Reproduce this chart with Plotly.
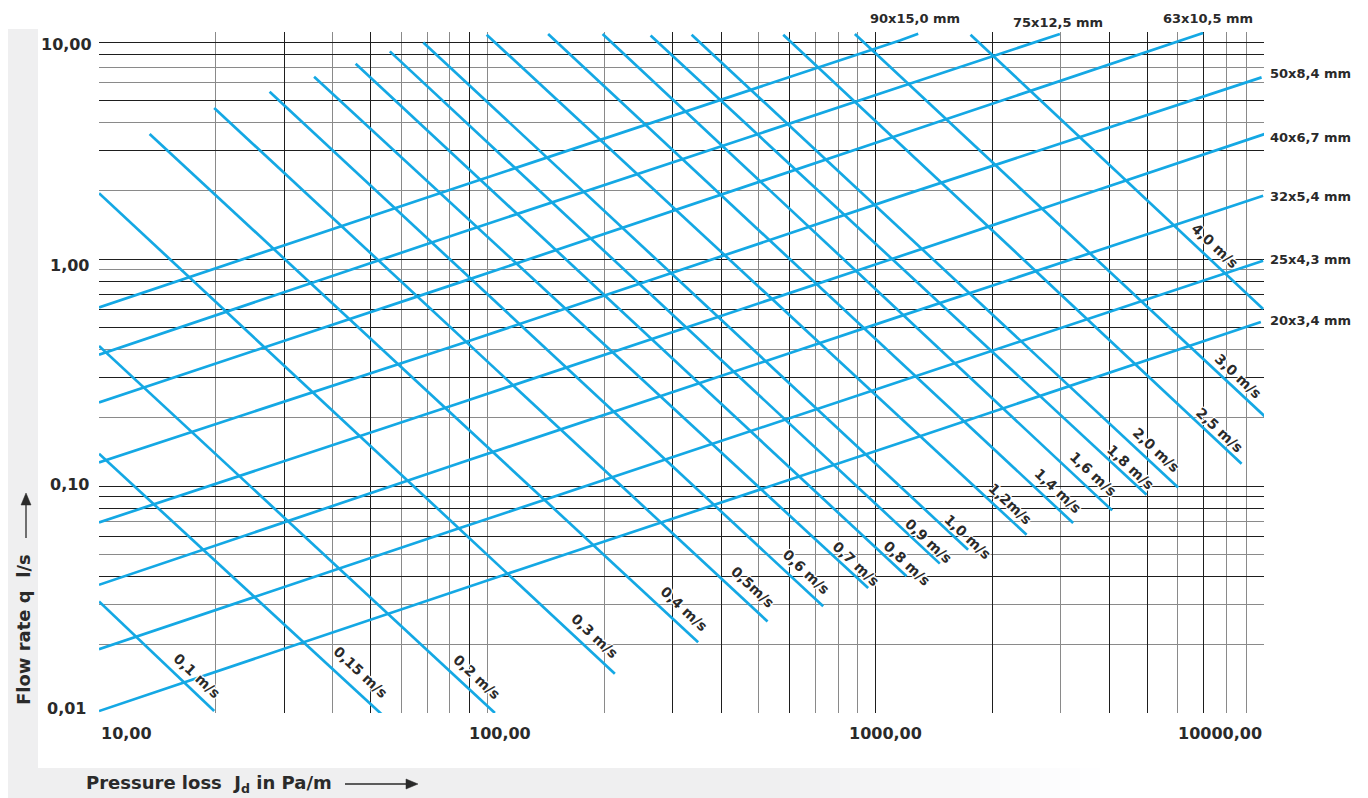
import numpy as np
import plotly.graph_objects as go

# ---------------- data ----------------
# pipe characteristic lines (pressure loss J in Pa/m, flow rate q in l/s)
pipe_labels = ["20x3,4 mm", "25x4,3 mm", "32x5,4 mm", "40x6,7 mm",
               "50x8,4 mm", "63x10,5 mm", "75x12,5 mm", "90x15,0 mm"]
pipe_J = [[10, 121, 1154, 9815],
          [10, 85, 1154, 9949],
          [10, 85, 1154, 9949],
          [10, 85, 1025, 10050],
          [10, 85, 1154, 9857],
          [10, 85, 1154, 6970],
          [10, 85, 1154, 2981],
          [10, 85, 1154, 1287]]
pipe_q = [[0.0102, 0.0428, 0.1547, 0.528],
          [0.0191, 0.0653, 0.2889, 0.983],
          [0.0367, 0.1263, 0.5587, 1.901],
          [0.0691, 0.2321, 0.960, 3.553],
          [0.1271, 0.4222, 1.887, 6.31],
          [0.2335, 0.789, 3.528, 9.90],
          [0.379, 1.302, 5.725, 9.80],
          [0.612, 2.088, 9.18, 9.83]]

# constant velocity lines
vel_labels = ["0,1 m/s", "0,15 m/s", "0,2 m/s", "0,3 m/s", "0,4 m/s", "0,5m/s",
              "0,6 m/s", "0,7 m/s", "0,8 m/s", "0,9 m/s", "1,0 m/s", "1,2m/s",
              "1,4 m/s", "1,6 m/s", "1,8 m/s", "2,0 m/s", "2,5 m/s", "3,0 m/s", "4,0 m/s"]
vel_J_start = [10, 10, 10, 10, 13.5, 19.8, 27.5, 35.8, 45.8, 56.1, 68.4, 99.6,
               143.4, 198.1, 263.3, 335.8, 578, 884, 1755]
vel_q_start = [0.031, 0.1388, 0.414, 1.95, 3.554, 4.626, 5.458, 6.356, 7.252, 8.215,
               9.0, 9.73, 9.80, 9.80, 9.66, 9.73, 9.73, 9.80, 9.73]
vel_J_end = [19.8, 53.7, 104.6, 213, 349, 526.7, 732.5, 956.6, 1201, 1463, 1730,
             2447, 3225, 4064, 4984, 6010, 8755, 10050, 9949]
vel_q_end = [0.0102, 0.0098, 0.0100, 0.0149, 0.0205, 0.0253, 0.0295, 0.0355, 0.0400,
             0.0455, 0.0524, 0.0610, 0.0687, 0.0781, 0.0916, 0.0986, 0.1254, 0.2025, 0.602]

# grid lines (two tones) and tick labels
x_grid_dark = [30, 50, 90, 300, 400, 600, 1000, 2000, 4000, 5000, 7000]
x_grid_gray = [20, 40, 60, 70, 80, 100, 200, 500, 700, 800, 900, 3000, 6000, 8000, 9000]
y_grid_dark = [0.04, 0.06, 0.08, 0.09, 0.1, 0.3, 0.5, 0.6, 0.7, 0.8, 1, 3, 5, 8, 9]
y_grid_gray = [0.02, 0.03, 0.05, 0.07, 0.2, 0.4, 0.9, 2, 4, 6, 7]
x_tick_vals = [10, 100, 1000, 10000]
x_tick_text = ["10,00", "100,00", "1000,00", "10000,00"]
y_tick_vals = [10, 1, 0.1, 0.01]
y_tick_text = ["10,00", "1,00", "0,10", "0,01"]

# ---------------- layout geometry / styles ----------------
OFF = 8                      # page body margin of the html page
W, H = 1368 - OFF, 798 - OFF
ML, MR, MT, MB = 91, 104, 24, 85
PW = W - ML - MR
PH = H - MT - MB
XR = (1, 4)
YR = (-2, 1)


def pxp(px, py):
    """window pixel -> paper coordinates"""
    return (px - OFF - ML) / PW, (H - MB - (py - OFF)) / PH


def lx(v):
    return float(np.clip(np.log10(v), XR[0] + 1e-4, XR[1] - 1e-4))


def ly(v):
    return float(np.clip(np.log10(v), YR[0] + 1e-4, YR[1] - 1e-4))


BLUE = "#14A8E4"
TXT = "#2a2a2a"
FONT = "DejaVu Sans"
HALO = "1px 1px 0 #fff, -1px -1px 0 #fff, 1px -1px 0 #fff, -1px 1px 0 #fff, 0 0 3px #fff"

fig = go.Figure()

for name, J, q in zip(pipe_labels, pipe_J, pipe_q):
    fig.add_trace(go.Scatter(x=J, y=q, mode="lines", name=name, showlegend=False,
                             hoverinfo="skip", line=dict(color=BLUE, width=2.7)))

for lab, j0, q0, j1, q1 in zip(vel_labels, vel_J_start, vel_q_start, vel_J_end, vel_q_end):
    fig.add_trace(go.Scatter(x=[j0, j1], y=[q0, q1], mode="lines", name=lab, showlegend=False,
                             hoverinfo="skip", line=dict(color=BLUE, width=2.7)))

annotations = []

# velocity labels, placed beside the lower end of each line
vel_label_off = [(-17, -35), (-22, -41), (-18, -36), (-20, -38), (-14, -33), (-15, -34),
                 (-17, -34), (-12, -24), (0, -13), (-11, -23), (0, -13), (-16, -31),
                 (-15, -32), (-19, -36), (-16, -28), (-22, -37), (-22, -34), (-26, -40),
                 (-48, -63)]
for lab, j1, q1, (dx, dy) in zip(vel_labels, vel_J_end, vel_q_end, vel_label_off):
    annotations.append(dict(x=lx(j1), y=ly(q1), xref="x", yref="y",
                            text=lab, showarrow=False, textangle=43,
                            xanchor="center", yanchor="middle", xshift=dx, yshift=-dy,
                            font=dict(family=FONT, size=14, color=TXT, weight="bold",
                                      shadow=HALO)))

# pipe labels
pipe_label_pos = [(7, 1, "left"), (5, 1, "left"), (5, -1, "left"), (4, -3, "left"),
                  (6, 4, "left"), (5, 14, "center"), (-2, 11, "center"), (-3, 15, "center")]
for lab, J, q, (dx, dy, anc) in zip(pipe_labels, pipe_J, pipe_q, pipe_label_pos):
    annotations.append(dict(x=lx(J[-1]), y=ly(q[-1]), xref="x", yref="y",
                            text=lab, showarrow=False, xanchor=anc, yanchor="middle",
                            xshift=dx, yshift=dy,
                            font=dict(family=FONT, size=13, color=TXT, weight="bold")))

# x tick labels
x_tick_shift = [27, 13, 10, -44]
for v, t, s in zip(x_tick_vals, x_tick_text, x_tick_shift):
    annotations.append(dict(x=lx(v), y=pxp(0, 733)[1], xref="x", yref="paper",
                            text=t, showarrow=False, xanchor="center", yanchor="middle",
                            xshift=s, font=dict(family=FONT, size=16, color=TXT, weight="bold")))
# y tick labels
y_tick_shift = [-12, -6, 2, 4]
y_tick_right = [94, 91, 91, 88]
for v, t, s, r in zip(y_tick_vals, y_tick_text, y_tick_shift, y_tick_right):
    annotations.append(dict(x=pxp(r, 0)[0], y=ly(v), xref="paper", yref="y",
                            text=t, showarrow=False, xanchor="right", yanchor="middle",
                            yshift=s, font=dict(family=FONT, size=16, color=TXT, weight="bold")))

# axis titles
xt = pxp(84, 784)
annotations.append(dict(x=xt[0], y=xt[1], xref="paper", yref="paper",
                        text="Pressure loss  J<sub>d</sub> in Pa/m", showarrow=False,
                        xanchor="left", yanchor="middle",
                        font=dict(family=FONT, size=18, color=TXT, weight="bold")))
yt = pxp(23, 630)
annotations.append(dict(x=yt[0], y=yt[1], xref="paper", yref="paper",
                        text="Flow rate q  l/s", showarrow=False, textangle=-90,
                        xanchor="center", yanchor="middle",
                        font=dict(family=FONT, size=18, color=TXT, weight="bold")))

shapes = []
# light grey L-shaped frame
x0, y0 = pxp(6, 29)
x1, y1 = pxp(38, 798)
shapes.append(dict(type="rect", xref="paper", yref="paper", x0=x0, x1=x1, y0=y1, y1=y0,
                   fillcolor="#efeff0", line=dict(width=0), layer="below"))
bx0, by0 = pxp(38, 768)
bx1, by1 = pxp(760, 798)
shapes.append(dict(type="rect", xref="paper", yref="paper", x0=bx0, x1=bx1, y0=by1, y1=by0,
                   fillcolor="#efeff0", line=dict(width=0), layer="below"))
nfade = 17
for i in range(nfade):
    a = pxp(760 + i * 20, 768)
    b = pxp(760 + (i + 1) * 20, 798)
    g = int(239 + (255 - 239) * (i + 1) / (nfade + 1))
    shapes.append(dict(type="rect", xref="paper", yref="paper", x0=a[0], x1=b[0],
                       y0=b[1], y1=a[1], fillcolor=f"rgb({g},{g},{min(255, g + 1)})",
                       line=dict(width=0), layer="below"))


def arrow(tail, head, size=12, half=5):
    tx, ty = tail
    hx, hy = head
    d = np.hypot(hx - tx, hy - ty)
    ux, uy = (hx - tx) / d, (hy - ty) / d
    bx, by = hx - ux * size, hy - uy * size
    p_tail, p_base, p_head = pxp(tx, ty), pxp(bx, by), pxp(hx, hy)
    c1 = pxp(bx - uy * half, by + ux * half)
    c2 = pxp(bx + uy * half, by - ux * half)
    out = [dict(type="line", xref="paper", yref="paper", x0=p_tail[0], y0=p_tail[1],
                x1=p_base[0], y1=p_base[1], line=dict(color=TXT, width=1.3))]
    path = f"M {c1[0]},{c1[1]} L {p_head[0]},{p_head[1]} L {c2[0]},{c2[1]} Z"
    out.append(dict(type="path", xref="paper", yref="paper", path=path,
                    fillcolor=TXT, line=dict(color=TXT, width=0.5)))
    return out


shapes += arrow((345, 784), (418, 784))
shapes += arrow((26, 538), (26, 493))

fig.update_layout(
    width=W, height=H,
    margin=dict(l=ML, r=MR, t=MT, b=MB, pad=0),
    paper_bgcolor="white", plot_bgcolor="white",
    showlegend=False,
    annotations=annotations, shapes=shapes,
    xaxis=dict(type="log", range=list(XR), tickmode="array", tickvals=x_grid_dark,
               showticklabels=False, ticks="", showgrid=True, gridcolor="#1e1e1e",
               gridwidth=1.2, zeroline=False, showline=False,
               minor=dict(tickmode="array", tickvals=x_grid_gray, showgrid=True,
                          gridcolor="#8a8a8a", gridwidth=1.3, ticks="")),
    yaxis=dict(type="log", range=list(YR), tickmode="array", tickvals=y_grid_dark,
               showticklabels=False, ticks="", showgrid=True, gridcolor="#1e1e1e",
               gridwidth=1.2, zeroline=False, showline=False,
               minor=dict(tickmode="array", tickvals=y_grid_gray, showgrid=True,
                          gridcolor="#8a8a8a", gridwidth=1.3, ticks="")),
)

fig.write_html("out.html")
